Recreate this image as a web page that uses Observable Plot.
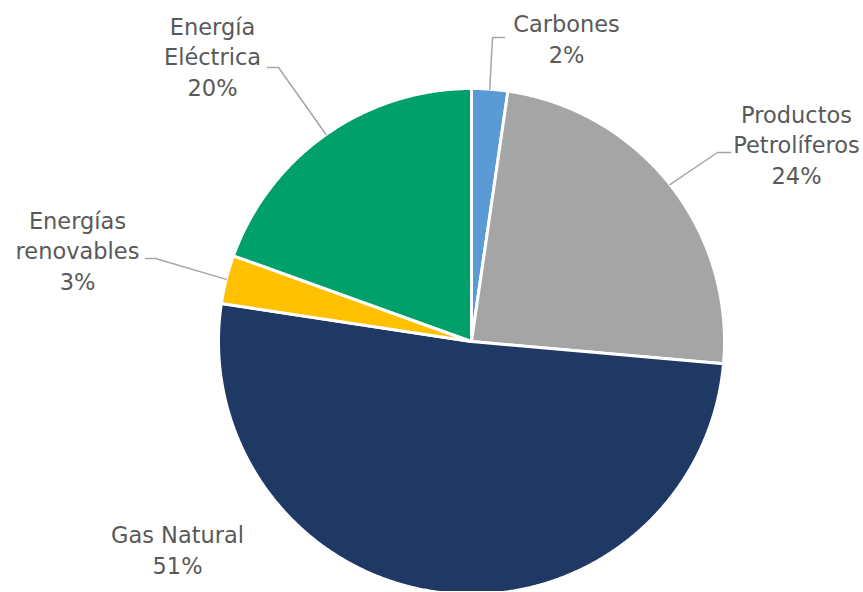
<!DOCTYPE html>
<html><head><meta charset="utf-8">
<script src="https://cdn.jsdelivr.net/npm/d3@7"></script>
<script src="https://cdn.jsdelivr.net/npm/@observablehq/plot@0.6"></script>
<style>body{margin:0;background:#fff}</style>
</head><body><div id="chart"></div>
<script>
// Data
const categories = ["Carbones", "Productos\nPetrolíferos", "Gas Natural", "Energías\nrenovables", "Energía\nEléctrica"];
const shares = [2.3, 24.1, 51.0, 3.1, 19.5];
const colors = ["#5B9BD5", "#A5A5A5", "#203864", "#FFC000", "#00A06B"];

// Layout
const W = 863, H = 592, CX = 471, CY = 341, R = 253;
const labelPos = [[566, 37], [796, 143], [177, 548], [77, 249], [212, 55]];
const elbows = [[[492, 37], [504, 37]], [[717, 152], [730, 152]], null, [[155, 258], [145, 258]], [[278, 67], [267, 67]]];

const total = d3.sum(shares);
let acc = 0;
const slices = shares.map((v, i) => {
  const a0 = acc / total * 2 * Math.PI; acc += v;
  const a1 = acc / total * 2 * Math.PI;
  return {i, name: categories[i], value: v, a0, a1, mid: (a0 + a1) / 2};
});
const pt = (a, r) => [CX + r * Math.sin(a), CY - r * Math.cos(a)];
const features = slices.map(s => {
  const n = Math.max(4, Math.ceil((s.a1 - s.a0) / 0.005));
  const ring = [[CX, CY]];
  for (let k = 0; k <= n; k++) ring.push(pt(s.a0 + (s.a1 - s.a0) * k / n, R));
  ring.push([CX, CY]);
  return {type: "Feature", properties: {name: s.name}, geometry: {type: "Polygon", coordinates: [ring]}};
});
const leaders = [];
slices.forEach(s => {
  if (!elbows[s.i]) return;
  const p0 = pt(s.mid, R);
  [p0, ...elbows[s.i]].forEach(p => leaders.push({id: s.i, x: p[0], y: p[1]}));
});
const labels = slices.map(s => ({x: labelPos[s.i][0], y: labelPos[s.i][1], text: s.name + "\n" + Math.round(s.value) + "%"}));

const chart = Plot.plot({
  width: W, height: H, margin: 0,
  projection: () => d3.geoIdentity(),
  color: {domain: categories, range: colors},
  style: {fontFamily: "DejaVu Sans", background: "#fff"},
  marks: [
    Plot.geo(features, {fill: d => d.properties.name, stroke: "#fff", strokeWidth: 3, strokeLinejoin: "round"}),
    Plot.line(leaders, {x: "x", y: "y", z: "id", stroke: "#A6A6A6", strokeWidth: 1.5, curve: "linear"}),
    Plot.text(labels, {x: "x", y: "y", text: "text", fontSize: 22.5, lineHeight: 1.36, fill: "#595959", textAnchor: "middle", lineAnchor: "middle"})
  ]
});
document.getElementById("chart").appendChild(chart);
</script>
</body></html>
